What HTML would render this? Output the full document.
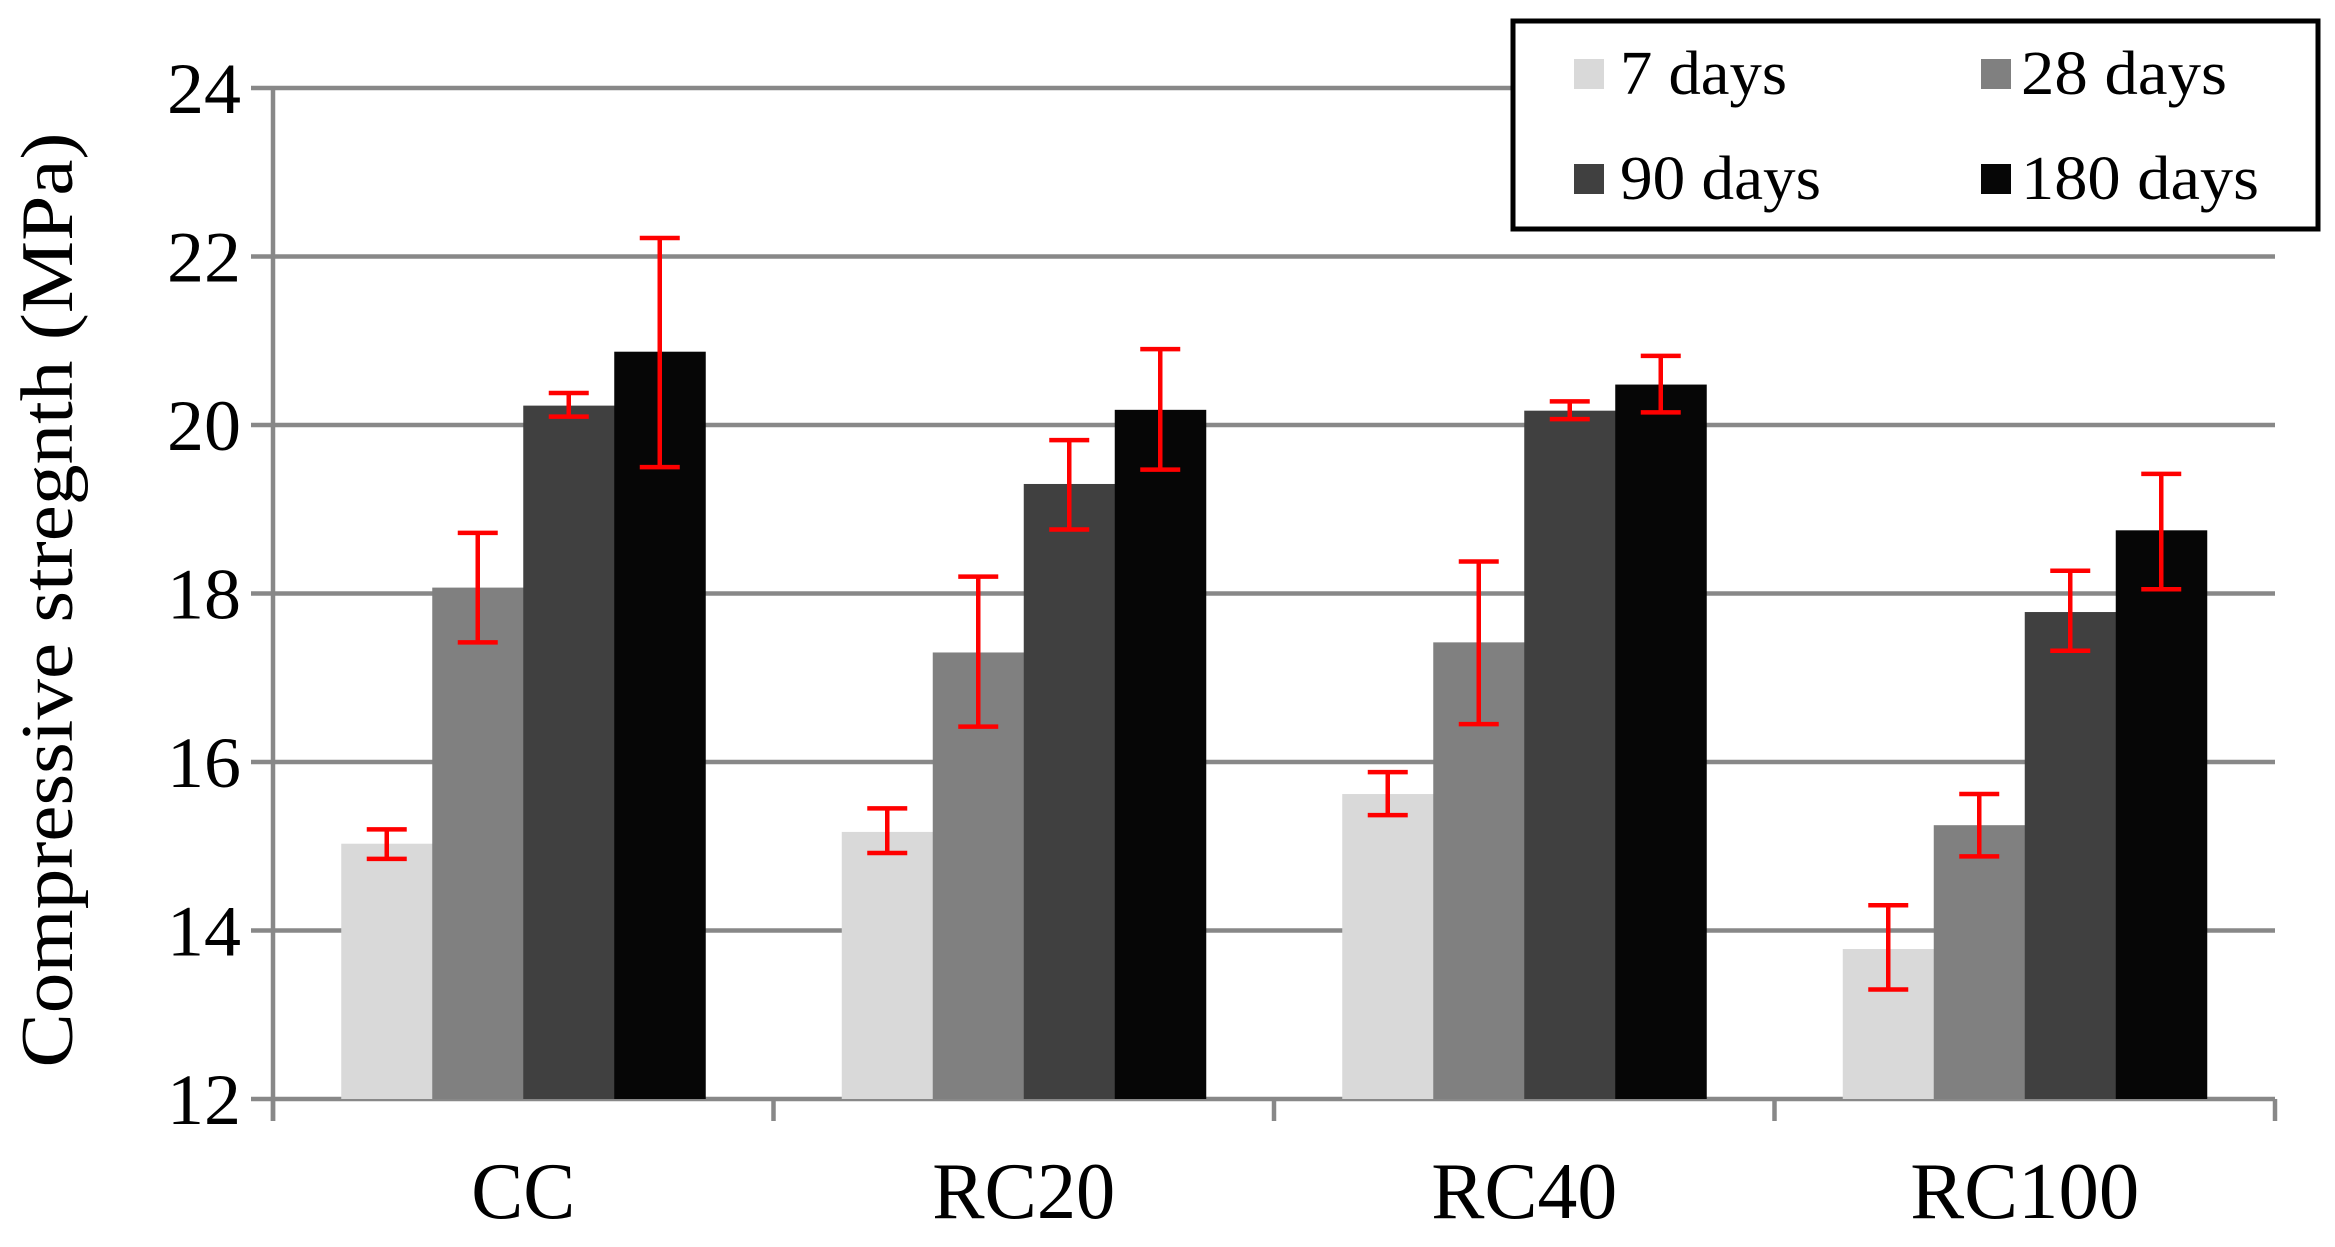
<!DOCTYPE html>
<html><head><meta charset="utf-8">
<style>
html,body{margin:0;padding:0;background:#fff;}
svg{display:block;}
text{font-family:"Liberation Serif",serif;fill:#000;}
</style></head>
<body>
<svg id="chart" width="2335" height="1247" viewBox="0 0 2335 1247" xmlns="http://www.w3.org/2000/svg">
<g id="grid"></g>
<g id="bars"></g>
<g id="errs"></g>
<g id="axes"></g>
<text transform="translate(72,600) rotate(-90)" text-anchor="middle" font-size="74" textLength="935" lengthAdjust="spacingAndGlyphs">Compressive stregnth (MPa)</text>
<g>
<rect x="1513" y="21" width="805" height="208" fill="#fff" stroke="#000" stroke-width="5"/>
<rect x="1574" y="59" width="30" height="30" fill="#d9d9d9"/>
<text x="1620" y="94" font-size="62" textLength="167" lengthAdjust="spacingAndGlyphs">7 days</text>
<rect x="1981" y="59" width="30" height="30" fill="#808080"/>
<text x="2021" y="94" font-size="62" textLength="206" lengthAdjust="spacingAndGlyphs">28 days</text>
<rect x="1574" y="164" width="30" height="30" fill="#404040"/>
<text x="1620" y="199" font-size="62" textLength="201" lengthAdjust="spacingAndGlyphs">90 days</text>
<rect x="1981" y="164" width="30" height="30" fill="#060606"/>
<text x="2021" y="199" font-size="62" textLength="238" lengthAdjust="spacingAndGlyphs">180 days</text>
</g>
</svg>
<script>
const categories = ["CC", "RC20", "RC40", "RC100"];
const seriesNames = ["7 days", "28 days", "90 days", "180 days"];
const v7 = [15.03, 15.17, 15.62, 13.78];
const v28 = [18.07, 17.30, 17.42, 15.25];
const v90 = [20.23, 19.30, 20.17, 17.78];
const v180 = [20.87, 20.18, 20.48, 18.75];
const lo7 = [14.85, 14.92, 15.37, 13.30];
const hi7 = [15.20, 15.45, 15.88, 14.30];
const lo28 = [17.42, 16.42, 16.45, 14.88];
const hi28 = [18.72, 18.20, 18.38, 15.62];
const lo90 = [20.10, 18.76, 20.07, 17.32];
const hi90 = [20.38, 19.82, 20.28, 18.27];
const lo180 = [19.50, 19.47, 20.15, 18.05];
const hi180 = [22.22, 20.90, 20.82, 19.42];
const yTicks = [12, 14, 16, 18, 20, 22, 24];

const NS = "http://www.w3.org/2000/svg";
const X0 = 273, X1 = 2275, Y0 = 1099, Y1 = 88, YMIN = 12, YMAX = 24;
const colors = ["#d9d9d9", "#808080", "#404040", "#060606"];
const values = [v7, v28, v90, v180];
const lows = [lo7, lo28, lo90, lo180];
const highs = [hi7, hi28, hi90, hi180];
const catLen = {"CC": 104, "RC20": 183, "RC40": 186, "RC100": 229};
const groupW = (X1 - X0) / categories.length;
const barW = groupW / 5.5;
function y(v){ return Y0 - (v - YMIN) / (YMAX - YMIN) * (Y0 - Y1); }
function xBar(ci, si){ return X0 + ci * groupW + 0.75 * barW + si * barW; }
function mk(tag, attrs, parent){ const e = document.createElementNS(NS, tag); for (const k in attrs) e.setAttribute(k, attrs[k]); parent.appendChild(e); return e; }

const grid = document.getElementById('grid');
const axes = document.getElementById('axes');
yTicks.forEach(t => {
  const l = mk('line', {x1: X0 - 22, x2: X1, y1: y(t), y2: y(t), stroke: '#888', 'stroke-width': 4.5}, grid);
  
  
  const tx = mk('text', {x: 167, y: y(t) + 25, 'font-size': 72, textLength: 74, lengthAdjust: 'spacingAndGlyphs'}, axes);
  tx.textContent = t;
  
  
});
const ya = mk('line', {x1: X0, x2: X0, y1: Y1, y2: Y0 + 22, stroke: '#888', 'stroke-width': 4.5}, axes);


for (let i = 0; i <= categories.length; i++) {
  const xx = X0 + i * groupW;
  const tk = mk('line', {x1: xx, x2: xx, y1: Y0, y2: Y0 + 22, stroke: '#888', 'stroke-width': 4.5}, axes);
  
  
}
categories.forEach((c, ci) => {
  const L = catLen[c];
  const tx = mk('text', {x: X0 + (ci + 0.5) * groupW - L / 2, y: 1218, 'font-size': 80, textLength: L, lengthAdjust: 'spacingAndGlyphs'}, axes);
  tx.textContent = c;
  
  
});

const bars = document.getElementById('bars');
const errs = document.getElementById('errs');
values.forEach((arr, si) => {
  arr.forEach((v, ci) => {
    const xb = xBar(ci, si);
    const r = mk('rect', {x: xb, y: y(v), width: barW + 0.5, height: Y0 - y(v), fill: colors[si]}, bars);
    
    
    const cx = xb + barW / 2, yl = y(lows[si][ci]), yh = y(highs[si][ci]);
    const g = mk('g', {stroke: '#f00', 'stroke-width': 4.5}, errs);
    
    
    mk('line', {x1: cx, x2: cx, y1: yl, y2: yh}, g);
    mk('line', {x1: cx - 20, x2: cx + 20, y1: yl, y2: yl}, g);
    mk('line', {x1: cx - 20, x2: cx + 20, y1: yh, y2: yh}, g);
  });
});
</script>
</body></html>
